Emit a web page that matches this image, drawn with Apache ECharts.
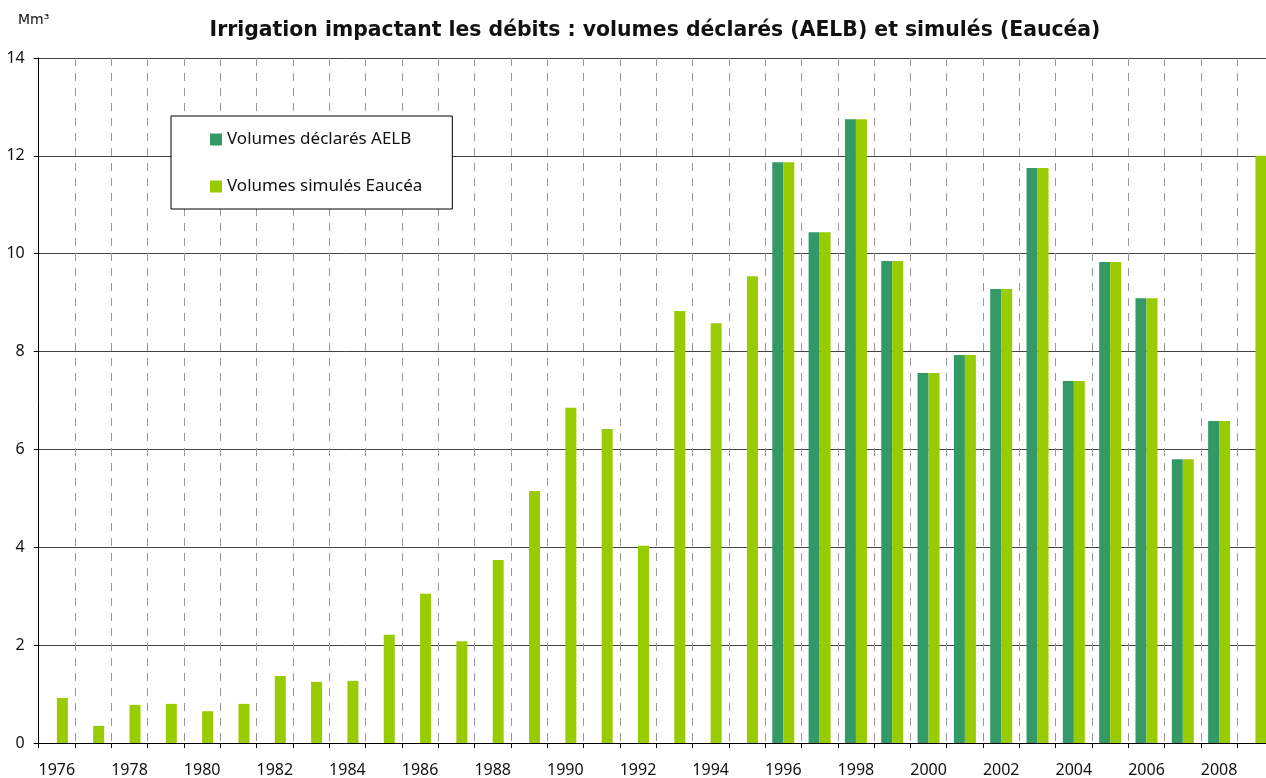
<!DOCTYPE html>
<html>
<head>
<meta charset="utf-8">
<script src="https://cdn.jsdelivr.net/npm/echarts@6/dist/echarts.min.js"></script>
<style>
html, body { margin: 0; padding: 0; background: #fff; }
#chart { width: 1266px; height: 778px; }
</style>
</head>
<body>
<div id="chart"></div>
<script>
/*données*/
var years = ['1976', '1977', '1978', '1979', '1980', '1981', '1982', '1983', '1984', '1985',
	'1986', '1987', '1988', '1989', '1990', '1991', '1992', '1993', '1994', '1995',
	'1996', '1997', '1998', '1999', '2000', '2001', '2002', '2003', '2004', '2005',
	'2006', '2007', '2008', '2009'];
var volumesAELB = [null, null, null, null, null, null, null, null, null, null,
	null, null, null, null, null, null, null, null, null, null,
	11.87, 10.44, 12.75, 9.85, 7.56, 7.93, 9.28, 11.75, 7.40, 9.83,
	9.09, 5.80, 6.58, null];
var volumesEaucea = [0.92, 0.35, 0.78, 0.80, 0.65, 0.80, 1.37, 1.25, 1.27, 2.21,
	3.05, 2.08, 3.74, 5.15, 6.85, 6.42, 4.03, 8.83, 8.58, 9.54,
	11.87, 10.44, 12.75, 9.85, 7.56, 7.93, 9.28, 11.75, 7.40, 9.83,
	9.09, 5.80, 6.58, 12.0];
var yTicks = [0, 14, 2];

var font = 'Noto Sans';
var chart = echarts.init(document.getElementById('chart'));

chart.setOption({
	animation: false,
	backgroundColor: '#fff',
	graphic: [{
		type: 'text',
		x: 655,
		y: 31,
		style: {
			text: 'Irrigation impactant les débits : volumes déclarés (AELB) et simulés (Eaucéa)',
			font: 'bold 20.4px "DejaVu Sans"',
			fill: '#111',
			textAlign: 'center',
			textVerticalAlign: 'middle'
		}
	}, {
		type: 'text',
		x: 18,
		y: 20,
		style: {
			text: 'Mm³',
			font: '14px "DejaVu Sans"',
			fill: '#111',
			textVerticalAlign: 'middle'
		}
	}],
	legend: {
		orient: 'vertical',
		left: 171,
		top: 116,
		itemWidth: 12,
		itemHeight: 12,
		itemGap: 30,
		padding: [15, 30, 14, 39],
		backgroundColor: '#fff',
		borderColor: '#000',
		borderWidth: 1,
		icon: 'rect',
		textStyle: {
			fontFamily: font,
			fontSize: 17,
			lineHeight: 16,
			color: '#111'
		},
		data: ['Volumes déclarés AELB', 'Volumes simulés Eaucéa']
	},
	grid: {
		left: 38.7,
		right: -7.6,
		top: 58,
		bottom: 35,
		containLabel: false,
		outerBoundsMode: 'none'
	},
	xAxis: {
		type: 'category',
		data: years,
		boundaryGap: true,
		axisLine: { lineStyle: { color: '#000', width: 1 } },
		axisTick: { show: true, interval: 0, length: 5, lineStyle: { color: '#000' } },
		axisLabel: {
			interval: 1,
			margin: 19,
			fontFamily: font,
			fontSize: 16,
			color: '#111'
		},
		splitLine: {
			show: true,
			interval: 0,
			lineStyle: { color: '#9a9a9a', type: [8, 7], width: 1 }
		}
	},
	yAxis: {
		type: 'value',
		min: yTicks[0],
		max: yTicks[1],
		interval: yTicks[2],
		axisLine: { show: true, lineStyle: { color: '#000', width: 1 } },
		axisTick: { show: true, length: 5, lineStyle: { color: '#000' } },
		axisLabel: {
			margin: 14,
			fontFamily: font,
			fontSize: 16,
			color: '#111'
		},
		splitLine: { show: true, lineStyle: { color: '#444', width: 1 } }
	},
	series: [{
		name: 'Volumes déclarés AELB',
		type: 'bar',
		data: volumesAELB,
		barWidth: 11,
		barGap: '0%',
		itemStyle: { color: '#339966' }
	}, {
		name: 'Volumes simulés Eaucéa',
		type: 'bar',
		data: volumesEaucea,
		barWidth: 11,
		barGap: '0%',
		itemStyle: { color: '#99cc00' }
	}]
});
</script>
</body>
</html>
